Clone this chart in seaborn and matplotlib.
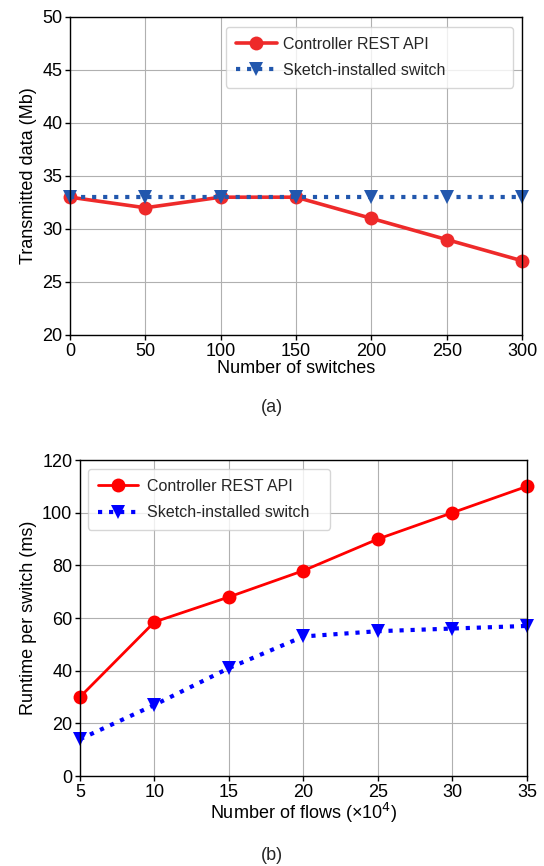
import matplotlib
matplotlib.use("Agg")
import matplotlib.pyplot as plt
import seaborn as sns
import pandas as pd

sns.set_theme(style="whitegrid")
plt.rcParams['font.family'] = ['Liberation Sans', 'DejaVu Sans']

# Panel (a)
switches = [0, 50, 100, 150, 200, 250, 300]
rest_a = [33, 32, 33, 33, 31, 29, 27]
sketch_a = [33, 33, 33, 33, 33, 33, 33]

# Panel (b)
flows = [5, 10, 15, 20, 25, 30, 35]
rest_b = [30, 58.5, 68, 78, 90, 100, 110]
sketch_b = [14, 27, 41, 53, 55, 56, 57]

labels = ["Controller REST API", "Sketch-installed switch"]

FS = 13
LFS = 11.5

fig = plt.figure(figsize=(5.44, 8.66), dpi=100)
ax1 = fig.add_axes([0.1287, 0.6132, 0.831, 0.3672])
ax2 = fig.add_axes([0.147, 0.1039, 0.8217, 0.3649])

def style_ax(ax):
    ax.set_facecolor("white")
    for s in ax.spines.values():
        s.set_color("black")
        s.set_linewidth(1.0)
    ax.grid(True, color="#b0b0b0", linewidth=0.8)
    ax.tick_params(axis="both", which="both", labelsize=FS, colors="black",
                   length=3.5, width=1, direction="out", bottom=True, left=True, pad=2)

# Top
sns.lineplot(x=switches, y=rest_a, ax=ax1, color="#ee2a2a", linewidth=2.6,
             marker="o", markersize=10, markeredgewidth=0, label=labels[0])
sns.lineplot(x=switches, y=sketch_a, ax=ax1, color="#2257ad", linewidth=3,
             linestyle=":", marker="v", markersize=10, markeredgewidth=0, label=labels[1])
ax1.set_xlim(0, 300)
ax1.set_ylim(20, 50)
ax1.set_xticks(switches)
ax1.set_yticks([20, 25, 30, 35, 40, 45, 50])
ax1.set_xlabel("Number of switches", fontsize=FS, color="black", labelpad=0)
ax1.set_ylabel("Transmitted data (Mb)", fontsize=FS, color="black", labelpad=4)
style_ax(ax1)
for l in ax1.lines:
    l.set_clip_on(False)
leg1 = ax1.legend(loc="upper left", bbox_to_anchor=(0.345, 0.9686, 0.635, 0), mode="expand",
                  borderaxespad=0, fontsize=LFS, frameon=True, handlelength=2.6,
                  borderpad=0.6, labelspacing=0.72, handletextpad=0.4)
leg1.get_frame().set_edgecolor("#cccccc")
fig.text(0.5, 1 - 408/866, "(a)", ha="center", va="center", fontsize=FS)

# Bottom
sns.lineplot(x=flows, y=rest_b, ax=ax2, color="#ff0000", linewidth=2,
             marker="o", markersize=10, markeredgewidth=0, label=labels[0])
sns.lineplot(x=flows, y=sketch_b, ax=ax2, color="#0000ff", linewidth=3,
             linestyle=":", marker="v", markersize=10, markeredgewidth=0, label=labels[1])
ax2.set_xlim(5, 35)
ax2.set_ylim(0, 120)
ax2.set_xticks(flows)
ax2.set_yticks([0, 20, 40, 60, 80, 100, 120])
ax2.set_xlabel("Number of flows (×10$^4$)", fontsize=FS, color="black", labelpad=0)
ax2.set_ylabel("Runtime per switch (ms)", fontsize=FS, color="black", labelpad=4)
style_ax(ax2)
for l in ax2.lines:
    l.set_clip_on(False)
leg2 = ax2.legend(loc="upper left", bbox_to_anchor=(0.018, 0.9715, 0.541, 0), mode="expand",
                  borderaxespad=0, fontsize=LFS, frameon=True, handlelength=2.5,
                  borderpad=0.6, labelspacing=0.72, handletextpad=0.6)
leg2.get_frame().set_edgecolor("#cccccc")
fig.text(0.5, 1 - 855/866, "(b)", ha="center", va="center", fontsize=FS)

fig.savefig("out.png", dpi=100, facecolor="white")
